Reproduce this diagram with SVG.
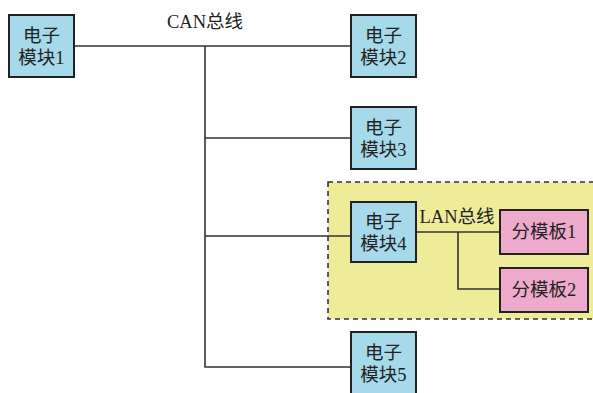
<svg xmlns="http://www.w3.org/2000/svg" width="593" height="393" viewBox="0 0 593 393">
<style>
.mod{fill:#a6d9ea;stroke:#222;stroke-width:2}
.sub{fill:#eeaacc;stroke:#222;stroke-width:2}
.wire{fill:none;stroke:#333;stroke-width:1.6}
text{font-family:"Liberation Serif","Noto Sans CJK SC",serif;font-size:18.5px;fill:#222;text-anchor:middle}
</style>
<rect width="593" height="393" fill="#fff"/>
<g id="lan-area">
<rect x="328" y="182" width="275" height="137" fill="#eeeb99" stroke="#333" stroke-width="1.6" stroke-dasharray="5,4"/>
</g>
<g id="connectors">
<path class="wire" d="M74 46 H351 M205 46 V367 H351 M205 138 H351 M205 236 H351"/>
<path class="wire" d="M416 232 H500 M458 232 V289 H500"/>
</g>
<g id="labels">
<text x="205" y="28" font-size="17">CAN总线</text>
<text x="457" y="223" font-size="17">LAN总线</text>
</g>
<g id="module1"><rect class="mod" x="9" y="15" width="65" height="62"/><text x="41.5" y="42">电子</text><text x="41.5" y="64">模块1</text></g>
<g id="module2"><rect class="mod" x="351" y="15" width="65" height="62"/><text x="383.5" y="42">电子</text><text x="383.5" y="64">模块2</text></g>
<g id="module3"><rect class="mod" x="351" y="107" width="65" height="62"/><text x="383.5" y="134">电子</text><text x="383.5" y="156">模块3</text></g>
<g id="module4"><rect class="mod" x="351" y="202" width="65" height="60"/><text x="383.5" y="228">电子</text><text x="383.5" y="250">模块4</text></g>
<g id="module5"><rect class="mod" x="351" y="332" width="65" height="70"/><text x="383.5" y="359">电子</text><text x="383.5" y="381">模块5</text></g>
<g id="sub1"><rect class="sub" x="500" y="210" width="88" height="44"/><text x="544" y="238">分模板1</text></g>
<g id="sub2"><rect class="sub" x="500" y="268" width="88" height="44"/><text x="544" y="296">分模板2</text></g>
</svg>
